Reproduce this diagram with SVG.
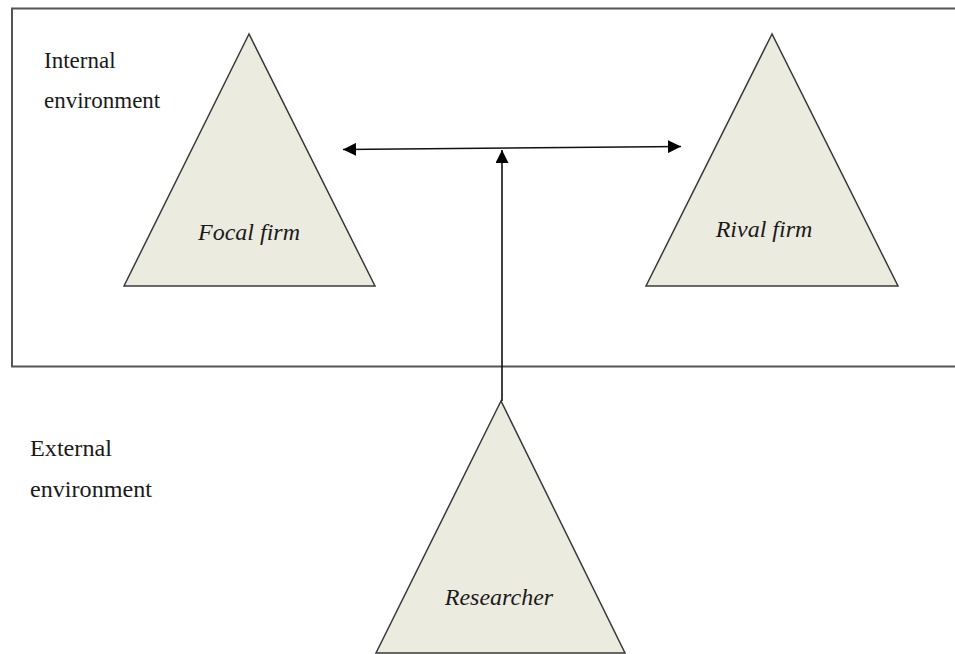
<svg xmlns="http://www.w3.org/2000/svg" width="955" height="654" viewBox="0 0 955 654">
<defs>
<marker id="ah" viewBox="0 0 10 10" refX="10" refY="5" markerWidth="13" markerHeight="13" markerUnits="userSpaceOnUse" orient="auto-start-reverse">
<path d="M0,0 L10,5 L0,10 z" fill="#000"/>
</marker>
<style>
.tri{fill:#ECEBE0;stroke:#3a3a3a;stroke-width:1.5;stroke-linejoin:miter}
.lbl{font-family:"Liberation Serif","Times New Roman",serif;font-size:23px;fill:#1a1a1a}
.nl{font-family:"Liberation Serif","Times New Roman",serif;font-size:24px;font-style:italic;fill:#1a1a1a;text-anchor:middle}
.con{stroke:#111;stroke-width:1.6;fill:none}
</style>
</defs>
<rect x="0" y="0" width="955" height="654" fill="#fff"/>
<g id="internal-environment">
<rect x="12" y="8.5" width="960" height="358" fill="none" stroke="#555" stroke-width="2"/>
<text class="lbl" x="44" y="68">Internal</text>
<text class="lbl" x="44" y="108">environment</text>
</g>
<g id="external-environment">
<text class="lbl" x="30" y="456" textLength="82" lengthAdjust="spacingAndGlyphs">External</text>
<text class="lbl" x="30" y="497" textLength="122" lengthAdjust="spacingAndGlyphs">environment</text>
</g>
<g id="focal-firm">
<polygon class="tri" points="249,34 124,286 375,286"/>
<text class="nl" x="249" y="240">Focal firm</text>
</g>
<g id="rival-firm">
<polygon class="tri" points="772,34 646,286 898,286"/>
<text class="nl" x="764" y="237">Rival firm</text>
</g>
<g id="researcher">
<polygon class="tri" points="501,401 376,653 625,653"/>
<text class="nl" x="499" y="605">Researcher</text>
</g>
<g id="connectors">
<line class="con" x1="343" y1="149.5" x2="681" y2="146.5" marker-start="url(#ah)" marker-end="url(#ah)"/>
<line class="con" x1="502" y1="401" x2="502" y2="150" marker-end="url(#ah)"/>
</g>
</svg>
